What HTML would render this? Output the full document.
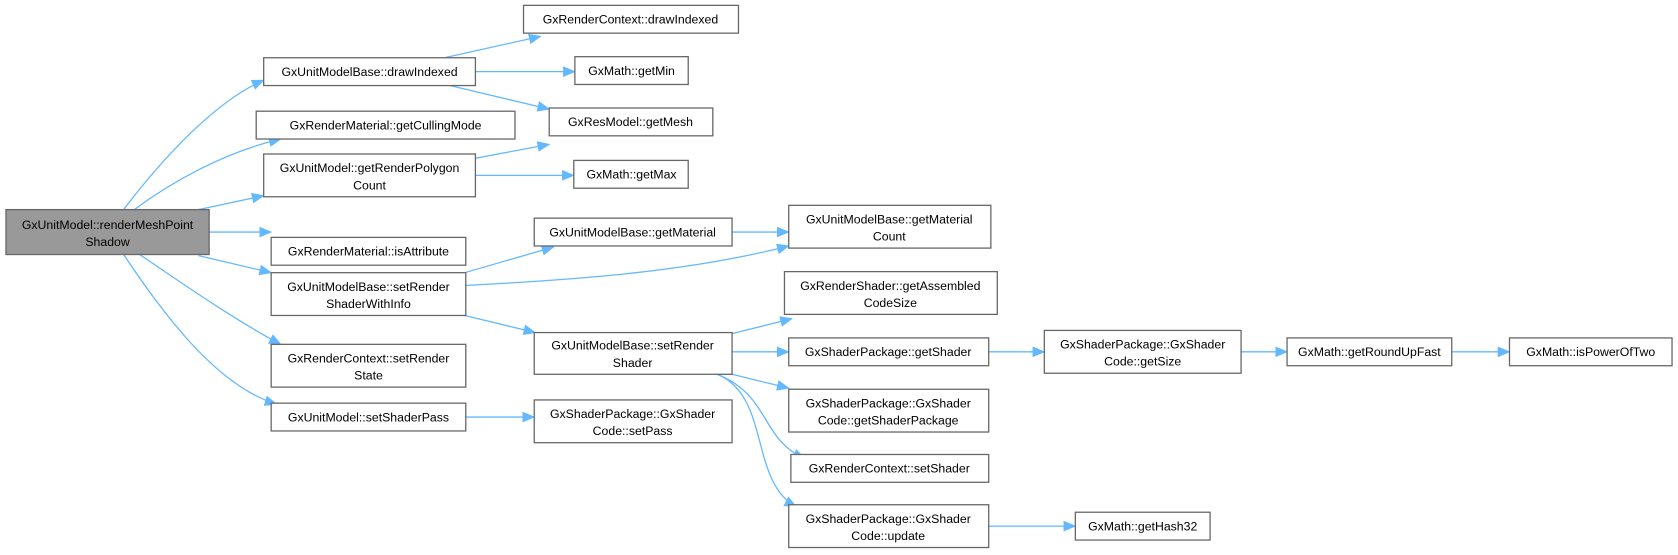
<!DOCTYPE html>
<html><head><meta charset="utf-8"><style>
html,body{margin:0;padding:0;background:#fff;}
svg{display:block;}
text{font-family:"Liberation Sans",sans-serif;font-size:11.5px;fill:#000;text-anchor:middle;}
rect{fill:#fff;stroke:#666;stroke-width:1.2;}
path{fill:none;stroke:#63b8ff;stroke-width:1.2;}
</style></head><body>
<svg width="1678" height="555" viewBox="0 0 1568 519" xmlns="http://www.w3.org/2000/svg">
<defs><marker id="a" markerWidth="12" markerHeight="10" refX="11" refY="5" orient="auto" markerUnits="userSpaceOnUse"><polygon points="0,0 12,5 0,10" fill="#63b8ff"/></marker></defs>
<g marker-end="url(#a)">
<path d="M115,196 C150,150 200,95 246,75"/>
<path d="M125,196 C160,170 210,142 262,130"/>
<path d="M185,196 L246,183"/>
<path d="M195,217 L253,217"/>
<path d="M185,239 L253,255"/>
<path d="M130,238 C170,265 220,300 262,322"/>
<path d="M115,238 C150,290 200,360 258,378"/>
<path d="M415,54 L505,34"/>
<path d="M444,67 L537,67"/>
<path d="M420,80 L513,102"/>
<path d="M444,148 L513,135"/>
<path d="M444,164 L536,164"/>
<path d="M434,255 L517,231"/>
<path d="M434,267 C530,262 640,255 737,230"/>
<path d="M434,295 L500,311"/>
<path d="M684,217 L737,217"/>
<path d="M684,312 L740,298"/>
<path d="M684,329 L737,329"/>
<path d="M684,350 L737,363"/>
<path d="M670,350 C720,370 710,410 752,429"/>
<path d="M670,350 C720,370 700,450 744,474"/>
<path d="M435,390 L499,390"/>
<path d="M924,329 L976,329"/>
<path d="M1160,329 L1203,329"/>
<path d="M1357,329 L1411,329"/>
<path d="M924,492 L1005,492"/>
</g>
<rect x="5" y="196" width="190" height="42" style="fill:#999"/>
<text x="100" y="214">GxUnitModel::renderMeshPoint</text><text x="100" y="230">Shadow</text>
<rect x="246" y="54" width="198" height="26"/><text x="345" y="71">GxUnitModelBase::drawIndexed</text>
<rect x="239" y="104" width="242" height="26"/><text x="360" y="121">GxRenderMaterial::getCullingMode</text>
<rect x="246" y="144" width="198" height="40"/><text x="345" y="161">GxUnitModel::getRenderPolygon</text><text x="345" y="177">Count</text>
<rect x="253" y="222" width="182" height="26"/><text x="344" y="239">GxRenderMaterial::isAttribute</text>
<rect x="253" y="255" width="182" height="40"/><text x="344" y="272">GxUnitModelBase::setRender</text><text x="344" y="288">ShaderWithInfo</text>
<rect x="253" y="322" width="182" height="40"/><text x="344" y="339">GxRenderContext::setRender</text><text x="344" y="355">State</text>
<rect x="253" y="377" width="182" height="26"/><text x="344" y="394">GxUnitModel::setShaderPass</text>
<rect x="489" y="5" width="201" height="26"/><text x="589" y="22">GxRenderContext::drawIndexed</text>
<rect x="537" y="53" width="106" height="26"/><text x="590" y="70">GxMath::getMin</text>
<rect x="513" y="101" width="153" height="26"/><text x="589" y="118">GxResModel::getMesh</text>
<rect x="536" y="150" width="107" height="26"/><text x="590" y="167">GxMath::getMax</text>
<rect x="499" y="204" width="185" height="26"/><text x="591" y="221">GxUnitModelBase::getMaterial</text>
<rect x="499" y="311" width="185" height="39"/><text x="591" y="327">GxUnitModelBase::setRender</text><text x="591" y="343">Shader</text>
<rect x="499" y="374" width="185" height="40"/><text x="591" y="391">GxShaderPackage::GxShader</text><text x="591" y="407">Code::setPass</text>
<rect x="737" y="192" width="189" height="40"/><text x="831" y="209">GxUnitModelBase::getMaterial</text><text x="831" y="225">Count</text>
<rect x="733" y="254" width="199" height="40"/><text x="832" y="271">GxRenderShader::getAssembled</text><text x="832" y="287">CodeSize</text>
<rect x="737" y="316" width="187" height="26"/><text x="830" y="333">GxShaderPackage::getShader</text>
<rect x="737" y="364" width="187" height="40"/><text x="830" y="381">GxShaderPackage::GxShader</text><text x="830" y="397">Code::getShaderPackage</text>
<rect x="739" y="425" width="185" height="26"/><text x="831" y="442">GxRenderContext::setShader</text>
<rect x="737" y="472" width="187" height="40"/><text x="830" y="489">GxShaderPackage::GxShader</text><text x="830" y="505">Code::update</text>
<rect x="976" y="309" width="184" height="40"/><text x="1068" y="326">GxShaderPackage::GxShader</text><text x="1068" y="342">Code::getSize</text>
<rect x="1203" y="316" width="154" height="26"/><text x="1280" y="333">GxMath::getRoundUpFast</text>
<rect x="1411" y="316" width="152" height="26"/><text x="1487" y="333">GxMath::isPowerOfTwo</text>
<rect x="1005" y="479" width="126" height="26"/><text x="1068" y="496">GxMath::getHash32</text>
</svg>
</body></html>
